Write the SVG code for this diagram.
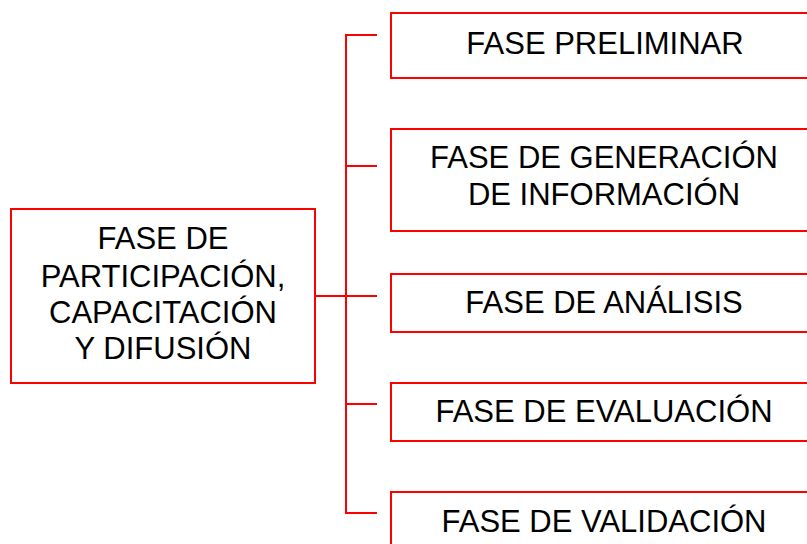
<svg xmlns="http://www.w3.org/2000/svg" width="807" height="544" viewBox="0 0 807 544">
<style>
.box{fill:#ffffff;stroke:#ff0000;stroke-width:2}
.ln{fill:none;stroke:#ff0000;stroke-width:2}
text{font-family:"Liberation Sans",Arial,sans-serif;font-size:31px;fill:#000000;text-anchor:middle}
</style>
<rect width="807" height="544" fill="#ffffff"/>
<g id="connectors">
<path class="ln" d="M315,296 H377"/>
<path class="ln" d="M377,35 H346 V513 H377"/>
<path class="ln" d="M346,166 H377"/>
<path class="ln" d="M346,404 H377"/>
</g>
<g id="node-participacion">
<rect class="box" x="11" y="209" width="304" height="174"/>
<text x="163" y="249">FASE DE</text>
<text x="163" y="287">PARTICIPACIÓN,</text>
<text x="163" y="323">CAPACITACIÓN</text>
<text x="163" y="359">Y DIFUSIÓN</text>
</g>
<g id="node-preliminar">
<rect class="box" x="391" y="13" width="440" height="65"/>
<text x="605" y="54">FASE PRELIMINAR</text>
</g>
<g id="node-generacion">
<rect class="box" x="391" y="129" width="440" height="102"/>
<text x="604" y="168">FASE DE GENERACIÓN</text>
<text x="604" y="205">DE INFORMACIÓN</text>
</g>
<g id="node-analisis">
<rect class="box" x="391" y="274" width="440" height="58"/>
<text x="604" y="313">FASE DE ANÁLISIS</text>
</g>
<g id="node-evaluacion">
<rect class="box" x="391" y="383" width="440" height="58"/>
<text x="604" y="422">FASE DE EVALUACIÓN</text>
</g>
<g id="node-validacion">
<rect class="box" x="391" y="492" width="440" height="70"/>
<text x="604" y="532">FASE DE VALIDACIÓN</text>
</g>
</svg>
